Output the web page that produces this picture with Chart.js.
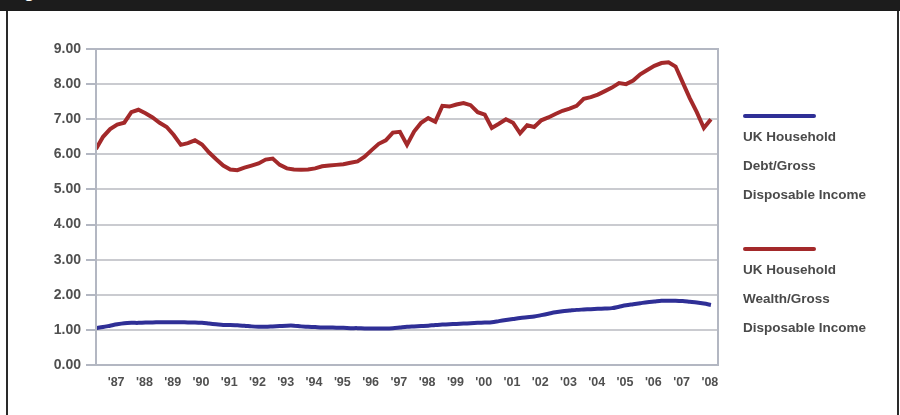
<!DOCTYPE html>
<html>
<head>
<meta charset="utf-8">
<script src="https://cdn.jsdelivr.net/npm/chart.js@4.4.1/dist/chart.umd.min.js"></script>
<style>
  html, body { margin: 0; padding: 0; background: #fff; }
  body { width: 900px; height: 415px; position: relative; overflow: hidden; font-family: "Liberation Sans", Arial, sans-serif; }
  #topbar { position: absolute; left: 0; top: 0; width: 900px; height: 11px; background: #1c1c1c; overflow: hidden; }
  #topbar span { position: absolute; left: 9px; top: -17px; color: #fff; font: bold 17px "Liberation Sans", Arial, sans-serif; }
  #frame { position: absolute; left: 6px; top: 11px; width: 889px; height: 404px; border-left: 2px solid #2a2a2a; border-right: 2px solid #2a2a2a; }
  #wrap { position: absolute; left: 0; top: 0; width: 900px; height: 415px; }
  .item { position: absolute; left: 743px; }
  .swatch { width: 73px; height: 4px; border-radius: 2px; }
  .txt { margin-top: 4px; line-height: 29px; font-size: 13.5px; font-weight: bold; color: #4a4a4a; white-space: nowrap; }
</style>
</head>
<body>
<div id="topbar"><span>Figure</span></div>
<div id="frame"></div>
<div id="wrap"><canvas id="chart" width="900" height="415"></canvas></div>
<div id="legend"></div>
<script>
document.addEventListener("DOMContentLoaded", () => {
  // year tick labels, 1987 - 2008
  const years = ["'87", "'88", "'89", "'90", "'91", "'92", "'93", "'94", "'95", "'96", "'97",
                 "'98", "'99", "'00", "'01", "'02", "'03", "'04", "'05", "'06", "'07", "'08"];

  // quarterly ratios, 1987 Q1 onwards
  const debtIncome = [
    1.05, 1.08, 1.12, 1.16, 1.19, 1.20, 1.20, 1.21, 1.21, 1.22, 1.22, 1.22,
    1.22, 1.21, 1.21, 1.20, 1.18, 1.16, 1.14, 1.14, 1.13, 1.12, 1.10, 1.09,
    1.09, 1.10, 1.11, 1.12, 1.12, 1.10, 1.09, 1.08, 1.07, 1.07, 1.06, 1.06,
    1.05, 1.05, 1.04, 1.04, 1.04, 1.04, 1.05, 1.07, 1.09, 1.10, 1.11, 1.12,
    1.14, 1.15, 1.16, 1.17, 1.18, 1.19, 1.20, 1.21, 1.22, 1.25, 1.28, 1.31,
    1.34, 1.36, 1.38, 1.42, 1.46, 1.50, 1.53, 1.55, 1.57, 1.58, 1.59, 1.60,
    1.61, 1.62, 1.66, 1.70, 1.73, 1.76, 1.79, 1.81, 1.83, 1.83, 1.83, 1.82,
    1.80, 1.78, 1.75, 1.71
  ];
  const wealthIncome = [
    6.15, 6.50, 6.72, 6.85, 6.90, 7.20, 7.27, 7.17, 7.05, 6.90, 6.78, 6.55,
    6.27, 6.32, 6.40, 6.28, 6.05, 5.86, 5.68, 5.57, 5.55, 5.62, 5.68, 5.74,
    5.85, 5.88, 5.70, 5.60, 5.57, 5.56, 5.57, 5.60, 5.66, 5.68, 5.70, 5.72,
    5.76, 5.80, 5.93, 6.12, 6.30, 6.40, 6.62, 6.64, 6.27, 6.65, 6.90, 7.03,
    6.93, 7.38, 7.36, 7.42, 7.46, 7.40, 7.20, 7.13, 6.75, 6.87, 7.00, 6.90,
    6.60, 6.83, 6.78, 6.97, 7.05, 7.15, 7.24, 7.30, 7.38, 7.58, 7.63, 7.70,
    7.80, 7.90, 8.03, 8.00, 8.10, 8.28, 8.40, 8.52, 8.60, 8.62, 8.50, 8.05,
    7.60, 7.20, 6.75, 7.00
  ];

  const seriesNames = [
    ["UK Household", "Debt/Gross", "Disposable Income"],
    ["UK Household", "Wealth/Gross", "Disposable Income"]
  ];
  const seriesColors = ["#2f2f96", "#a3292a"];

  const toPoints = arr => arr.map((v, i) => ({ x: i / 4, y: v }));
  const axisColor = "#b3b7c2";
  const gridColor = "#cacbd0";
  const labelFont = "'Liberation Sans', Arial, sans-serif";

  // box round the plot area
  const plotBorder = {
    id: "plotBorder",
    afterDatasetsDraw(chart) {
      const { ctx, chartArea: a } = chart;
      ctx.save();
      ctx.strokeStyle = axisColor;
      ctx.lineWidth = 2;
      ctx.strokeRect(a.left, a.top, a.right - a.left, a.bottom - a.top);
      ctx.restore();
    }
  };

  const chart = new Chart(document.getElementById("chart"), {
    type: "line",
    data: {
      datasets: [
        {
          label: seriesNames[0].join(" "),
          data: toPoints(debtIncome),
          borderColor: seriesColors[0],
          borderWidth: 4,
          pointRadius: 0,
          tension: 0.3
        },
        {
          label: seriesNames[1].join(" "),
          data: toPoints(wealthIncome),
          borderColor: seriesColors[1],
          borderWidth: 4,
          pointRadius: 0,
          tension: 0
        }
      ]
    },
    options: {
      responsive: false,
      animation: false,
      layout: { padding: { left: 40, right: 182, top: 49, bottom: 20 } },
      plugins: { legend: { display: false }, tooltip: { enabled: false } },
      scales: {
        x: {
          type: "linear",
          min: 0,
          max: 22,
          grid: { display: false },
          border: { display: true, color: axisColor, width: 2 },
          afterBuildTicks: scale => { scale.ticks = years.map((_, i) => ({ value: i + 0.5 })); },
          afterFit: scale => { scale.height = 30; },
          ticks: {
            autoSkip: false,
            maxRotation: 0,
            padding: 2,
            labelOffset: 6,
            color: "#505050",
            font: { family: labelFont, size: 12.5, weight: "bold" },
            callback: (v, i) => years[i]
          }
        },
        y: {
          min: 0,
          max: 9,
          grid: { color: gridColor, lineWidth: 2, tickLength: 10, tickColor: axisColor },
          border: { display: true, color: axisColor, width: 2 },
          afterFit: scale => { scale.width = 56; },
          ticks: {
            stepSize: 1,
            padding: 5,
            color: "#505050",
            font: { family: labelFont, size: 14, weight: "bold" },
            callback: v => v.toFixed(2)
          }
        }
      }
    },
    plugins: [plotBorder]
  });

  // legend at the right, one block per series
  const legend = document.getElementById("legend");
  const legendTops = [114, 247];
  chart.data.datasets.forEach((ds, k) => {
    const item = document.createElement("div");
    item.className = "item";
    item.style.top = legendTops[k] + "px";
    const sw = document.createElement("div");
    sw.className = "swatch";
    sw.style.background = ds.borderColor;
    item.appendChild(sw);
    const txt = document.createElement("div");
    txt.className = "txt";
    seriesNames[k].forEach(line => {
      const d = document.createElement("div");
      d.textContent = line;
      txt.appendChild(d);
    });
    item.appendChild(txt);
    legend.appendChild(item);
  });
});
</script>
</body>
</html>
